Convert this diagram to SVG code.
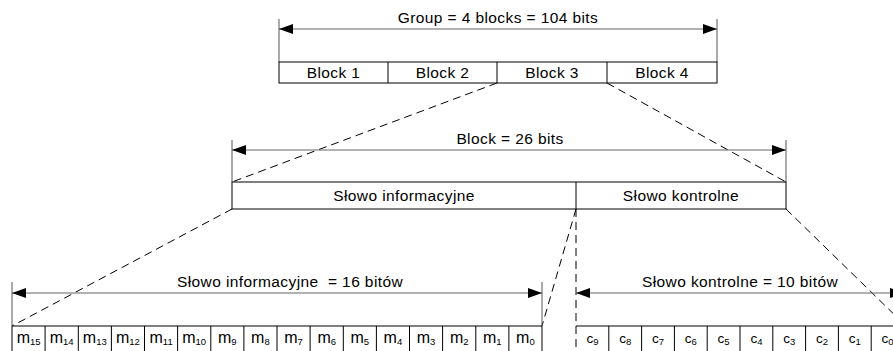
<svg xmlns="http://www.w3.org/2000/svg" width="893" height="351" viewBox="0 0 893 351">
  <style>
    text { font-family: "Liberation Sans", Arial, sans-serif; fill: #000; }
    .lbl { font-size: 15.5px; letter-spacing: 0.4px; text-anchor: middle; white-space: pre; }
    .cell { font-size: 16px; text-anchor: middle; }
    .cc { font-size: 13.5px; text-anchor: middle; }
    .sub { font-size: 9.5px; }
    .box { fill: #fff; stroke: #000; stroke-width: 1; }
    .ext { stroke: #555; stroke-width: 1; fill: none; }
    .dim { stroke: #666; stroke-width: 1.2; fill: none; marker-start: url(#arrL); marker-end: url(#arrR); }
    .dash { stroke: #000; stroke-width: 1; fill: none; stroke-dasharray: 8 5; }
  </style>
  <defs>
    <marker id="arrR" markerWidth="14" markerHeight="10" refX="14" refY="5" orient="auto" markerUnits="userSpaceOnUse">
      <path d="M0,0 L14,5 L0,10 Z" fill="#000"/>
    </marker>
    <marker id="arrL" markerWidth="14" markerHeight="10" refX="0" refY="5" orient="auto" markerUnits="userSpaceOnUse">
      <path d="M14,0 L0,5 L14,10 Z" fill="#000"/>
    </marker>
  </defs>
  <rect width="893" height="351" fill="#fff"/>

  <!-- expansion lines between levels -->
  <g id="connectors">
    <line class="dash" x1="497" y1="83" x2="232" y2="182"/>
    <line class="dash" x1="607" y1="83" x2="786" y2="182"/>
    <line class="dash" x1="232" y1="209" x2="12" y2="326"/>
    <line class="dash" x1="576" y1="209" x2="542" y2="326"/>
    <line class="dash" x1="576" y1="209" x2="576" y2="351"/>
    <line class="dash" x1="786" y1="209" x2="906" y2="326"/>
  </g>

  <!-- group of four blocks -->
  <g id="group">
    <line class="ext" x1="279" y1="19" x2="279" y2="62"/>
    <line class="ext" x1="717" y1="19" x2="717" y2="62"/>
    <line class="dim" x1="279" y1="29" x2="717" y2="29"/>
    <text class="lbl" x="498" y="23">Group = 4 blocks = 104 bits</text>
    <rect class="box" x="279" y="62" width="438" height="21"/>
    <line class="box" x1="388" y1="62" x2="388" y2="83"/>
    <line class="box" x1="497" y1="62" x2="497" y2="83"/>
    <line class="box" x1="607" y1="62" x2="607" y2="83"/>
    <text class="lbl" x="333.5" y="78">Block 1</text>
    <text class="lbl" x="442.5" y="78">Block 2</text>
    <text class="lbl" x="552" y="78">Block 3</text>
    <text class="lbl" x="662" y="78">Block 4</text>
  </g>

  <!-- one block: information word + check word -->
  <g id="block">
    <line class="ext" x1="232" y1="140" x2="232" y2="182"/>
    <line class="ext" x1="786" y1="140" x2="786" y2="182"/>
    <line class="dim" x1="232" y1="150" x2="786" y2="150"/>
    <text class="lbl" x="510" y="144">Block = 26 bits</text>
    <rect class="box" x="232" y="182" width="554" height="27"/>
    <line class="box" x1="576" y1="182" x2="576" y2="209"/>
    <text class="lbl" x="404" y="201">Słowo informacyjne</text>
    <text class="lbl" x="681" y="201">Słowo kontrolne</text>
  </g>

  <!-- information word bits m15..m0 -->
  <g id="info-word">
    <line class="ext" x1="12" y1="282" x2="12" y2="326"/>
    <line class="ext" x1="542" y1="282" x2="542" y2="326"/>
    <line class="dim" x1="12" y1="293" x2="542" y2="293"/>
    <text class="lbl" x="290" y="287">Słowo informacyjne  = 16 bitów</text>
    <path class="box" d="M12,351 V326 H542 V351"/>
    <path class="box" d="M45.1,326V351M78.3,326V351M111.4,326V351M144.5,326V351M177.6,326V351M210.8,326V351M243.9,326V351M277,326V351M310.1,326V351M343.3,326V351M376.4,326V351M409.5,326V351M442.6,326V351M475.8,326V351M508.9,326V351"/>
    <text class="cell" x="28.6" y="343">m<tspan class="sub" dy="1.5">15</tspan></text>
    <text class="cell" x="61.7" y="343">m<tspan class="sub" dy="1.5">14</tspan></text>
    <text class="cell" x="94.8" y="343">m<tspan class="sub" dy="1.5">13</tspan></text>
    <text class="cell" x="127.9" y="343">m<tspan class="sub" dy="1.5">12</tspan></text>
    <text class="cell" x="161.1" y="343">m<tspan class="sub" dy="1.5">11</tspan></text>
    <text class="cell" x="194.2" y="343">m<tspan class="sub" dy="1.5">10</tspan></text>
    <text class="cell" x="227.3" y="343">m<tspan class="sub" dy="1.5">9</tspan></text>
    <text class="cell" x="260.4" y="343">m<tspan class="sub" dy="1.5">8</tspan></text>
    <text class="cell" x="293.6" y="343">m<tspan class="sub" dy="1.5">7</tspan></text>
    <text class="cell" x="326.7" y="343">m<tspan class="sub" dy="1.5">6</tspan></text>
    <text class="cell" x="359.8" y="343">m<tspan class="sub" dy="1.5">5</tspan></text>
    <text class="cell" x="392.9" y="343">m<tspan class="sub" dy="1.5">4</tspan></text>
    <text class="cell" x="426.1" y="343">m<tspan class="sub" dy="1.5">3</tspan></text>
    <text class="cell" x="459.2" y="343">m<tspan class="sub" dy="1.5">2</tspan></text>
    <text class="cell" x="492.3" y="343">m<tspan class="sub" dy="1.5">1</tspan></text>
    <text class="cell" x="525.4" y="343">m<tspan class="sub" dy="1.5">0</tspan></text>
  </g>

  <!-- check word bits c9..c0 -->
  <g id="check-word">
    <line class="ext" x1="904" y1="282" x2="904" y2="326"/>
    <line class="dim" x1="576" y1="293" x2="904" y2="293"/>
    <text class="lbl" x="740" y="287">Słowo kontrolne = 10 bitów</text>
    <path class="box" d="M576,326 H904"/>
    <path class="box" d="M608.8,326V351M641.6,326V351M674.4,326V351M707.2,326V351M740,326V351M772.8,326V351M805.6,326V351M838.4,326V351M871.2,326V351"/>
    <text class="cc" x="592.4" y="343">c<tspan class="sub" dy="1.5">9</tspan></text>
    <text class="cc" x="625.2" y="343">c<tspan class="sub" dy="1.5">8</tspan></text>
    <text class="cc" x="658" y="343">c<tspan class="sub" dy="1.5">7</tspan></text>
    <text class="cc" x="690.8" y="343">c<tspan class="sub" dy="1.5">6</tspan></text>
    <text class="cc" x="723.6" y="343">c<tspan class="sub" dy="1.5">5</tspan></text>
    <text class="cc" x="756.4" y="343">c<tspan class="sub" dy="1.5">4</tspan></text>
    <text class="cc" x="789.2" y="343">c<tspan class="sub" dy="1.5">3</tspan></text>
    <text class="cc" x="822" y="343">c<tspan class="sub" dy="1.5">2</tspan></text>
    <text class="cc" x="854.8" y="343">c<tspan class="sub" dy="1.5">1</tspan></text>
    <text class="cc" x="887.6" y="343">c<tspan class="sub" dy="1.5">0</tspan></text>
  </g>
</svg>
